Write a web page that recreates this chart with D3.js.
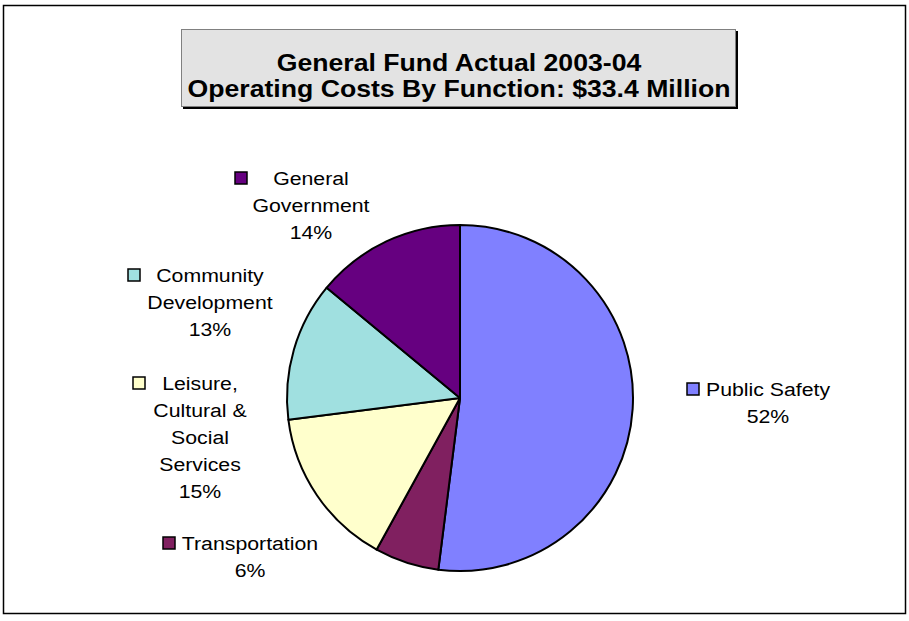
<!DOCTYPE html>
<html>
<head>
<meta charset="utf-8">
<script src="https://cdn.jsdelivr.net/npm/d3@7"></script>
<style>
  html, body { margin: 0; padding: 0; background: #fff; }
  svg { display: block; }
  text { font-family: "Liberation Sans", Arial, sans-serif; }
</style>
</head>
<body>
<svg id="chart" width="909" height="621"></svg>
<script>
// Operating costs by function, share of the General Fund (percent)
const categories = ["Public Safety", "Transportation", "Leisure, Cultural & Social Services", "Community Development", "General Government"];
const shares = [52, 6, 15, 13, 14];
const colors = ["#8080FF", "#802060", "#FFFFCC", "#A0E0E0", "#660080"];

// Wrapped label lines for each slice
const labelLines = [
  ["Public Safety"],
  ["Transportation"],
  ["Leisure,", "Cultural &", "Social", "Services"],
  ["Community", "Development"],
  ["General", "Government"]
];
// Label layout: block centre x, first-line centre y, legend key left x
const labelPos = [
  [768, 389, 687],
  [250, 543, 163],
  [200, 383, 133],
  [210, 275, 128],
  [311, 178, 235]
];

const titleLines = ["General Fund Actual 2003-04", "Operating Costs By Function: $33.4 Million"];

const svg = d3.select("#chart");
const stretch = 1.12; // text is set slightly wide

// Outer frame
svg.append("rect")
  .attr("x", 3.5).attr("y", 5.5).attr("width", 902).attr("height", 608)
  .attr("fill", "#fff").attr("stroke", "#000").attr("stroke-width", 1.5);

// Title box with shadow
svg.append("rect")
  .attr("x", 183).attr("y", 31).attr("width", 555).attr("height", 78)
  .attr("fill", "#000");
svg.append("rect")
  .attr("x", 181.5).attr("y", 29.5).attr("width", 554).attr("height", 77)
  .attr("fill", "#E3E3E3").attr("stroke", "#808080").attr("stroke-width", 1);
svg.append("g").selectAll("text")
  .data(titleLines).join("text")
  .attr("transform", (d, i) => `translate(459,${71 + i * 26}) scale(1.11,1)`)
  .attr("text-anchor", "middle")
  .attr("font-size", 24).attr("font-weight", "bold")
  .attr("fill", "#000")
  .text(d => d);

// Pie
const cx = 460, cy = 398, radius = 173;
const pie = d3.pie().sort(null).value(d => d)(shares);
const arc = d3.arc().innerRadius(0).outerRadius(radius);

svg.append("g")
  .attr("transform", `translate(${cx},${cy})`)
  .selectAll("path")
  .data(pie).join("path")
  .attr("d", arc)
  .attr("fill", (d, i) => colors[i])
  .attr("stroke", "#000").attr("stroke-width", 2)
  .attr("stroke-linejoin", "round");

// Labels with legend keys
const lineH = 27;
const fs = 19;
const labels = svg.append("g");
categories.forEach((c, i) => {
  const lines = labelLines[i].concat([d3.format(".0f")(shares[i]) + "%"]);
  const [lx, ly, kx] = labelPos[i];
  const g = labels.append("g");
  g.selectAll("text").data(lines).join("text")
    .attr("transform", (d, j) => `translate(${lx},${ly + j * lineH + 7}) scale(${stretch},1)`)
    .attr("text-anchor", "middle")
    .attr("font-size", fs)
    .attr("fill", "#000")
    .text(d => d);
  g.append("rect")
    .attr("x", kx).attr("y", ly - 6)
    .attr("width", 12).attr("height", 12)
    .attr("fill", colors[i]).attr("stroke", "#000").attr("stroke-width", 1.5);
});
</script>
</body>
</html>
